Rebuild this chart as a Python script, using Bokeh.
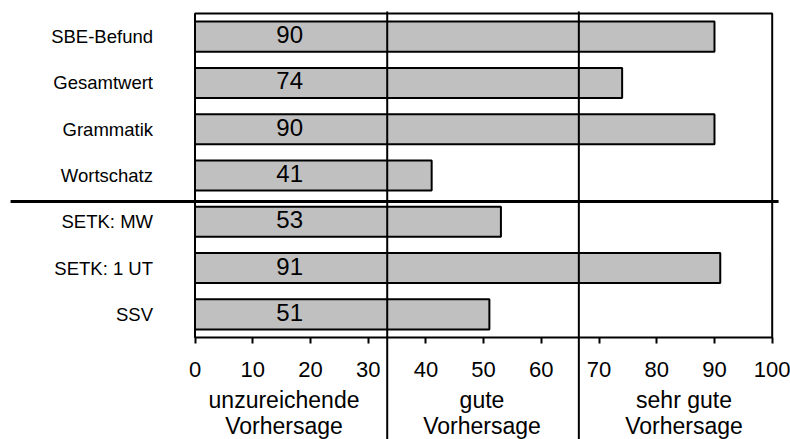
from bokeh.plotting import figure
from bokeh.models import Range1d, FixedTicker, LinearAxis
from bokeh.core.properties import value
from bokeh.embed import file_html
from bokeh.resources import INLINE

# ---- data ----
categories = ["SBE-Befund", "Gesamtwert", "Grammatik", "Wortschatz",
              "SETK: MW", "SETK: 1 UT", "SSV"]
values = [90, 74, 90, 41, 53, 91, 51]
x_ticks = [0, 10, 20, 30, 40, 50, 60, 70, 80, 90, 100]
thresholds = [33.3, 66.5]
zone_line1 = ["unzureichende", "gute", "sehr gute"]
zone_line2 = ["Vorhersage", "Vorhersage", "Vorhersage"]
group_split = 4          # separator after the first four categories

FONT = "Liberation Sans"
n = len(categories)
ypos = [n - i - 0.5 for i in range(n)]          # slot centres, top to bottom
sep_y = n - group_split - 0.06

p = figure(width=790, height=439,
           x_range=Range1d(-33.70, 103.17),
           y_range=Range1d(-2.2035, 7.2808),
           x_axis_location=None, y_axis_location=None,
           output_backend="svg", toolbar_location=None,
           min_border_left=0, min_border_right=0,
           min_border_top=0, min_border_bottom=0)

p.background_fill_color = "white"
p.border_fill_color = "white"
p.outline_line_color = None
p.xgrid.grid_line_color = None
p.ygrid.grid_line_color = None

# bars
p.hbar(y=ypos, right=values, left=0, height=0.65,
       fill_color="#C0C0C0", line_color="black", line_width=2)

# values inside bars
p.text(x=[16.4] * n, y=ypos, text=[str(v) for v in values],
       text_font=value(FONT), text_font_size="24px", text_color="black",
       text_align="center", text_baseline="middle", y_offset=-2)

# plot box
p.quad(left=[x_ticks[0]], right=[x_ticks[-1]], bottom=[0], top=[n],
       fill_color=None, line_color="black", line_width=2)

# vertical threshold lines reaching into the label area
p.segment(x0=thresholds, y0=[n + 0.043] * len(thresholds),
          x1=thresholds, y1=[-2.4] * len(thresholds),
          line_color="black", line_width=2)

# horizontal separator between the two groups
p.segment(x0=[-31.96], y0=[sep_y], x1=[101.1], y1=[sep_y],
          line_color="black", line_width=3)

# zone labels
zone_x = [15.42, 49.72, 84.72]
p.text(x=zone_x, y=[-1.346] * 3, text=zone_line1,
       text_font=value(FONT), text_font_size="23px", text_color="black",
       text_align="center", text_baseline="middle")
p.text(x=zone_x, y=[-1.918] * 3, text=zone_line2,
       text_font=value(FONT), text_font_size="23px", text_color="black",
       text_align="center", text_baseline="middle")

# x axis (fixed at the bottom of the bar box)
xa = LinearAxis(fixed_location=0, ticker=FixedTicker(ticks=x_ticks))
xa.axis_line_color = None
xa.major_tick_line_color = "black"
xa.major_tick_line_width = 2
xa.major_tick_in = 0
xa.major_tick_out = 6
xa.minor_tick_line_color = None
xa.major_label_text_font = FONT
xa.major_label_text_font_size = "22px"
xa.major_label_text_color = "black"
xa.major_label_standoff = 18
p.add_layout(xa, "below")

# y axis with category names (fixed at x = 0)
ya = LinearAxis(fixed_location=0, ticker=FixedTicker(ticks=ypos))
ya.major_label_overrides = {y: c for y, c in zip(ypos, categories)}
ya.axis_line_color = None
ya.major_tick_line_color = None
ya.minor_tick_line_color = None
ya.major_label_text_font = FONT
ya.major_label_text_font_size = "18.5px"
ya.major_label_text_color = "black"
ya.major_label_standoff = 36
p.add_layout(ya, "left")

open("out.html", "w").write(file_html(p, INLINE))
